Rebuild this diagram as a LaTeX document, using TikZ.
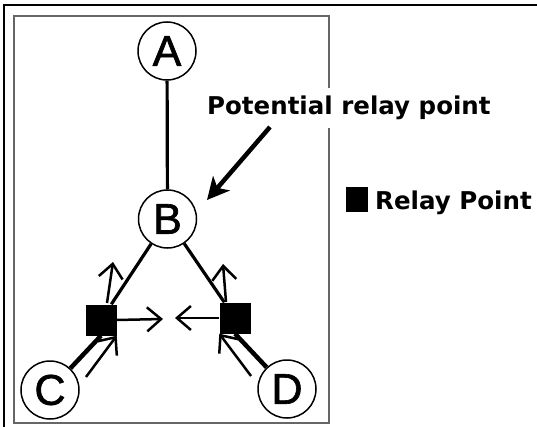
\documentclass[tikz,border=0pt]{standalone}
\usepackage{fontspec}
\setmainfont{Liberation Sans}
\newfontfamily\labfont{DejaVu Sans}
\newfontfamily\circfont[FakeBold=1.5]{Liberation Sans}
\usetikzlibrary{arrows.meta,calc}
\begin{document}
\begin{tikzpicture}[x=1pt,y=-1pt,
  station/.style={circle, draw, line width=1.5pt, fill=white, minimum size=58pt, inner sep=0pt, font=\circfont\fontsize{43}{43}\selectfont},
  relay/.style={rectangle, fill=black, minimum size=31pt, inner sep=0pt},
  link/.style={line width=3.2pt},
  heavy/.style={line width=4.5pt},
  flow/.style={line width=2.5pt, -{Straight Barb[length=14pt,width=24pt,line width=2.5pt]}},
  caption/.style={font=\labfont\bfseries\fontsize{24.5}{24.5}\selectfont, inner sep=0pt, anchor=base west},
  frame/.style={draw=black!60, line width=2pt}
]
\useasboundingbox (0,0) rectangle (537,427);
% outer frame
\draw[line width=1.5pt] (4,5) rectangle (545,435);
% inner frame
\draw[frame] (13.5,16) rectangle (329,423);

% nodes
\node[station] (A) at (167,51) {A};
\node[station] (B) at (167.5,219) {B};
\node[station] (C) at (50,390) {C};
\node[station] (D) at (287,389) {D};
\node[relay] (SL) at (101,320) {};
\node[relay] (SR) at (235,318) {};

% links
\draw[link] (A) -- (B);
\draw[link] (B) -- (SL);
\draw[link] (B) -- (SR);
\draw[heavy] (SL.south) -- (C);
\draw[heavy] (SR.south) -- (D);

% flow arrows
\coordinate (lus) at (107,303);
\coordinate (lue) at (113,262);
\coordinate (lls) at (86,377);
\coordinate (lhe) at (163,319);
\coordinate (rhe) at (175,318);
\coordinate (rus) at (226,302);
\coordinate (rue) at (223,264);
\coordinate (rls) at (251,376);
\draw[flow] (lus) -- (lue);
\draw[flow] (lls) -- (SL.south east);
\draw[flow] (SL.east) -- (lhe);
\draw[flow] (SR.west) -- (rhe);
\draw[flow] (rus) -- (rue);
\draw[flow] (rls) -- (SR.south west);

% potential relay point label and pointer
\node[caption, fill=white, inner xsep=2pt, inner ysep=8pt] (pot) at (205,115) {Potential relay point};
\coordinate (ps) at (270,127);
\coordinate (pe) at (207,200);
\draw[line width=4.5pt, -{Stealth[length=22pt,width=22pt,inset=6pt]}] (ps) -- (pe);

% legend
\node[fill=black, minimum width=22pt, minimum height=25pt, inner sep=0pt] (key) at (357,199.5) {};
\node[caption] (keytext) at (375,210) {Relay Point};
\end{tikzpicture}
\end{document}
